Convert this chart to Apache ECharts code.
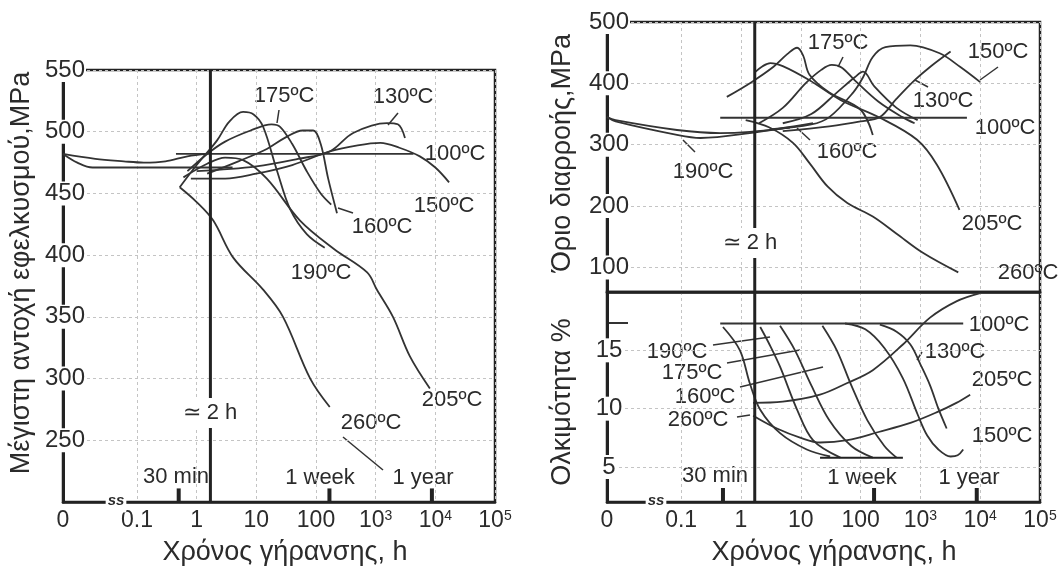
<!DOCTYPE html>
<html>
<head>
<meta charset="utf-8">
<title>Γήρανση - αντοχή, όριο διαρροής, ολκιμότητα</title>
<script src="https://cdn.jsdelivr.net/npm/echarts@6/dist/echarts.min.js"></script>
<style>
  html, body { margin: 0; padding: 0; background: #fff; }
  #main { width: 1063px; height: 570px; }
</style>
</head>
<body>
<div id="main"></div>
<script>
// ---- data: [ageing time in hours, value]; time 0 = as quenched (left edge) ----
var xTickHours = [0.1, 1, 10, 100, 1000, 10000, 100000];
var xTickLabels = ['0.1', '1', '10', '100', '10{s|3}', '10{s|4}', '10{s|5}'];
var markHours = [0.5, 168, 8760];          // 30 min, 1 week, 1 year
var twoHours = 1.7;                        // the "≃ 2 h" line

// tensile strength, MPa (left)
var utsStartA = [[0, 482], [0.02, 478], [0.06, 476], [0.13, 475], [0.3, 476], [0.7, 480], [1.5, 482]];
var utsStartB = [[0, 482], [0.01, 475], [0.018, 471], [4, 471]];
var uts100 = [[0.45, 482], [4300, 482]];
var uts130 = [[1, 468], [10, 472], [50, 478], [170, 484], [420, 499], [1550, 507], [2350, 506], [3100, 495]];
var uts150 = [[0.8, 462], [3, 462], [10, 466], [40, 473], [170, 484], [500, 489], [1200, 491], [2500, 487], [5500, 480], [10000, 471], [17000, 459]];
var uts160 = [[1.5, 466], [5, 476], [15, 486], [30, 495], [60, 501], [90, 501], [120, 490], [160, 462], [225, 434]];
var uts175 = [[0.7, 468], [1.5, 482], [3, 492], [8, 501], [18, 506], [25, 504], [40, 490], [70, 468], [120, 450], [180, 441]];
var uts190 = [[0.52, 455], [1, 473], [2.2, 493], [3.5, 508], [6, 516], [9, 514], [13, 504], [22, 469], [37, 437], [70, 417], [140, 406]];
var uts205 = [[0.6, 463], [1.5, 474], [3, 479], [6, 477], [15, 462], [54, 428], [200, 405], [720, 386], [1050, 372], [1950, 350], [3750, 318], [8100, 292]];
var uts260 = [[0.52, 455], [1, 443], [1.9, 428], [4.1, 398], [13, 372], [28, 350], [80, 300], [170, 277]];

// yield strength, MPa (right, top)
var ysStartA = [[0, 345], [0.008, 340], [0.085, 324], [0.45, 319], [1.4, 321], [6.6, 328]];
var ysStartB = [[0, 345], [0.008, 338], [0.085, 316], [0.21, 311], [1.4, 319], [16, 335]];
var ys100 = [[0.45, 344], [6000, 344]];
var ys130 = [[5, 322], [30, 330], [100, 338], [210, 345], [400, 375], [820, 406], [1500, 428], [3200, 452]];
var ys150 = [[3, 325], [15, 333], [30, 345], [75, 385], [110, 410], [160, 443], [260, 459], [680, 462], [2100, 449], [4600, 427], [10000, 402]];
var ys160 = [[5, 335], [15, 350], [40, 385], [80, 410], [110, 419], [170, 395], [400, 360], [900, 340]];
var ys175 = [[2, 335], [5, 360], [12, 400], [22, 422], [33, 430], [48, 426], [80, 405], [200, 370], [500, 345], [800, 335]];
var ys190 = [[0.58, 378], [1.5, 402], [3.5, 427], [6, 448], [8.7, 458], [11, 445], [14, 414], [30, 385], [100, 357], [160, 316]];
var ys205 = [[1.7, 418], [2.3, 428], [3.1, 433], [5, 428], [14, 405], [46, 373], [210, 344], [880, 308], [1900, 267], [4500, 194]];
var ys260 = [[1.2, 340], [3, 328], [7.4, 303], [14, 270], [28, 232], [60, 205], [160, 183], [400, 155], [1100, 124], [4300, 92]];

// elongation, % (right, bottom)
var el100 = [[0.45, 17.3], [5200, 17.3]];
var el190 = [[0.5, 17.0], [0.96, 15.0], [1.4, 12.2], [2.1, 9.9], [4.5, 7.9], [12.6, 6.5], [31, 5.9]];
var el175 = [[2.1, 17.0], [3, 15.5], [4.5, 13.6], [8.7, 9.9], [16, 7.3], [46, 5.8]];
var el160 = [[4.5, 17.1], [8, 15], [15, 12], [30, 9], [70, 6.8], [160, 5.8]];
var elFan = [[23, 17.1], [40, 15], [70, 12], [130, 9], [250, 6.8], [400, 5.8]];
var el150 = [[55, 17.3], [120, 16.8], [250, 15.2], [510, 12.6], [900, 9.5], [1300, 7.7], [2000, 6.5], [3200, 5.9], [4200, 6.0], [5200, 6.5]];
var el130 = [[210, 17.2], [400, 16.6], [680, 15.5], [1000, 13.8], [1450, 12.0], [2000, 10.0], [2750, 8.3]];
var el205 = [[1.6, 9.4], [4, 8.3], [10, 7.5], [21, 7.1], [60, 7.3], [200, 8.0], [700, 8.8], [1900, 9.7], [4000, 10.5], [6800, 11.2]];
var el260 = [[1.6, 10.5], [5, 10.6], [21, 11.2], [60, 12.2], [160, 13.3], [510, 15.5], [1450, 17.8], [4000, 19.2], [10000, 19.9]];
var elWeek = [[21, 5.8], [510, 5.8]];

// ---- helpers ----
var X0 = -2.24;   // position of "0" (log10 scale, broken axis)
var FONT = '"Liberation Sans", Arial, sans-serif';
var INK = '#2b2b2b';

function toX(h) { return h === 0 ? X0 : Math.log10(h); }

function curve(pts, xi, yi, extra) {
    var s = {
        type: 'line', xAxisIndex: xi, yAxisIndex: yi,
        data: pts.map(function (p) { return [toX(p[0]), p[1]]; }),
        symbol: 'none', smooth: 0.35, silent: true, animation: false,
        lineStyle: { color: '#333', width: 1.8 }
    };
    for (var k in extra) s[k] = extra[k];
    return s;
}

var decades = xTickHours.map(function (h) { return Math.log10(h); });
var labelPos = [X0].concat(decades);

function xLabel(v) {
    if (v < -2) return '0';
    var i = decades.indexOf(v);
    return i >= 0 ? xTickLabels[i] : '';
}

function xAx(gi, showLabels) {
    return {
        type: 'value', gridIndex: gi, min: X0, max: 5,
        axisLine: { show: true, onZero: false, lineStyle: { color: '#222', width: 2.5 } },
        axisTick: { show: false, customValues: decades },
        splitLine: { show: true, lineStyle: { color: '#c4c4c4', type: [3, 3], width: 1 } },
        axisLabel: {
            show: showLabels, customValues: labelPos, formatter: xLabel,
            fontSize: 23, color: INK, fontFamily: FONT, margin: 7,
            rich: { s: { fontSize: 14, color: INK, fontFamily: FONT, verticalAlign: 'top', lineHeight: 12 } }
        }
    };
}

function yAx(gi, min, max, ticks) {
    return {
        type: 'value', gridIndex: gi, min: min, max: max,
        axisLine: { show: true, onZero: false, lineStyle: { color: '#222', width: 3 } },
        axisTick: { show: false, customValues: ticks },
        splitLine: { show: true, lineStyle: { color: '#c4c4c4', type: [3, 3], width: 1 } },
        axisLabel: {
            customValues: ticks, fontSize: 24, color: INK, fontFamily: FONT,
            align: 'center', margin: -2, backgroundColor: '#fff', padding: [0, 1]
        }
    };
}

function txt(t, x, y, size, extra) {
    var e = {
        type: 'text', x: x, y: y,
        style: { text: t, font: (size || 22) + 'px ' + FONT, fill: INK, align: 'center', verticalAlign: 'middle' }
    };
    for (var k in extra) e[k] = extra[k];
    return e;
}
function boxed(t, x, y, font) {
    return {
        type: 'text', x: x, y: y, z: 20,
        style: { text: t, font: font, fill: INK, align: 'center', verticalAlign: 'middle', backgroundColor: '#fff', padding: [4, 2] }
    };
}
function seg(x1, y1, x2, y2, w) {
    return { type: 'line', shape: { x1: x1, y1: y1, x2: x2, y2: y2 }, style: { stroke: '#333', lineWidth: w || 1.5 } };
}

// ---- series ----
var series = [];
[utsStartA, utsStartB, uts100, uts130, uts150, uts160, uts175, uts190, uts205, uts260].forEach(function (d) {
    series.push(curve(d, 0, 0));
});
[ysStartA, ysStartB, ys100, ys130, ys150, ys160, ys175, ys190, ys205, ys260].forEach(function (d) {
    series.push(curve(d, 1, 1));
});
[el100, el190, el175, el160, elFan, el150, el130, el205, el260].forEach(function (d) {
    series.push(curve(d, 2, 2));
});
series.push(curve(elWeek, 2, 2, { smooth: false, lineStyle: { color: '#222', width: 2 } }));

// "≃ 2 h" lines
var thick = { smooth: false, lineStyle: { color: '#222', width: 3 } };
series.push(curve([[twoHours, 200], [twoHours, 550]], 0, 0, thick));
series.push(curve([[twoHours, 60], [twoHours, 500]], 1, 1, thick));
series.push(curve([[twoHours, 2], [twoHours, 20]], 2, 2, thick));

// 30 min / 1 week / 1 year ticks
markHours.forEach(function (h) {
    var t = { smooth: false, lineStyle: { color: '#222', width: 4 } };
    series.push(curve([[h, 200], [h, 211]], 0, 0, t));
    series.push(curve([[h, 2], [h, 3.2]], 2, 2, t));
});

var chart = echarts.init(document.getElementById('main'));
chart.setOption({
    backgroundColor: '#fff',
    animation: false,
    grid: [
        { left: 63, top: 70, width: 432, height: 432, show: true, borderColor: '#222', borderWidth: 2.5 },
        { left: 607, top: 22, width: 433, height: 270, show: true, borderColor: '#222', borderWidth: 2.5 },
        { left: 607, top: 292, width: 433, height: 210, show: true, borderColor: '#222', borderWidth: 2.5 }
    ],
    xAxis: [xAx(0, true), xAx(1, false), xAx(2, true)],
    yAxis: [
        yAx(0, 200, 550, [250, 300, 350, 400, 450, 500, 550]),
        yAx(1, 60, 500, [100, 200, 300, 400, 500]),
        yAx(2, 2, 20, [5, 10, 15])
    ],
    series: series,
    graphic: [
        // axis titles
        txt('Μέγιστη αντοχή εφελκυσμού,MPa', 22, 273, 27, { rotation: Math.PI / 2 }),
        txt('Όριο διαρροής,MPa', 563, 153, 27, { rotation: Math.PI / 2 }),
        txt('Ολκιμότητα %', 563, 402, 27, { rotation: Math.PI / 2 }),
        txt('Χρόνος γήρανσης, h', 285, 553, 27),
        txt('Χρόνος γήρανσης, h', 834, 553, 27),
        // axis breaks
        boxed('ss', 116, 501, 'italic bold 15px ' + FONT),
        boxed('ss', 656, 501, 'italic bold 15px ' + FONT),
        // left panel labels
        txt('175ºC', 284, 96), txt('130ºC', 403, 97), txt('100ºC', 455, 154),
        txt('150ºC', 444, 206), txt('160ºC', 382, 227), txt('190ºC', 321, 273),
        txt('205ºC', 452, 400), txt('260ºC', 371, 423),
        boxed('≃ 2 h', 210, 413, '22px ' + FONT),
        txt('30 min', 176, 477), txt('1 week', 320, 478), txt('1 year', 423, 478),
        seg(279, 110, 277, 123), seg(398, 113, 388, 125), seg(338, 208, 353, 213), seg(343, 437, 383, 470),
        // right top labels
        txt('175ºC', 838, 43), txt('150ºC', 998, 52), txt('130ºC', 943, 101), txt('100ºC', 1005, 128),
        txt('160ºC', 847, 152), txt('190ºC', 703, 172), txt('205ºC', 992, 224), txt('260ºC', 1028, 273),
        boxed('≃ 2 h', 750, 243, '22px ' + FONT),
        seg(843, 57, 838, 67), seg(980, 80, 998, 67), seg(915, 80, 928, 87), seg(797, 128, 810, 140), seg(683, 140, 695, 152),
        // right bottom labels
        txt('100ºC', 999, 325), txt('130ºC', 955, 352), txt('205ºC', 1002, 380), txt('150ºC', 1002, 436),
        txt('190ºC', 677, 352), txt('175ºC', 692, 373), txt('160ºC', 705, 397), txt('260ºC', 698, 420),
        txt('30 min', 715, 476), txt('1 week', 862, 478), txt('1 year', 969, 478),
        seg(713, 345, 770, 337), seg(727, 363, 800, 350), seg(740, 387, 823, 367), seg(737, 417, 750, 415),
        seg(917, 360, 922, 352), seg(607, 323, 628, 323, 2)
    ]
});
</script>
</body>
</html>
